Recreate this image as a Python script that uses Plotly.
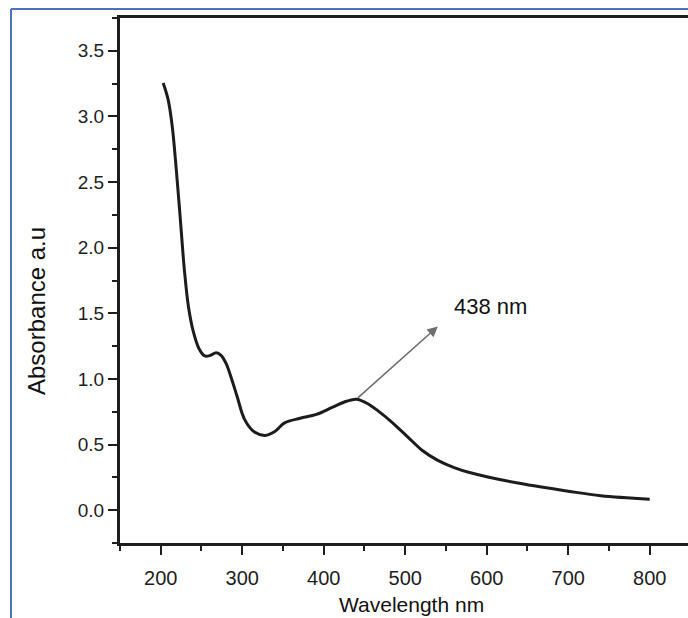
import plotly.graph_objects as go

# Data (UV-Vis absorbance spectrum)
wavelength = [203, 209, 214, 219, 224, 229, 234, 240, 247, 254, 261, 268, 274,
              280, 287, 294, 303, 315, 328, 340, 352, 371, 391, 411, 428, 440, 453,
              467, 481, 502, 521, 540, 560, 580, 600, 640, 700, 740, 800]
absorbance = [3.255, 3.13, 2.93, 2.60, 2.22, 1.83, 1.55, 1.36, 1.23, 1.175, 1.18, 1.20, 1.18,
              1.12, 1.00, 0.86, 0.69, 0.595, 0.57, 0.60, 0.665, 0.70, 0.73, 0.785, 0.83, 0.845, 0.815,
              0.755, 0.685, 0.565, 0.455, 0.38, 0.325, 0.285, 0.255, 0.205, 0.145, 0.11, 0.084]

peak_label = "438 nm"
peak_point = (440, 0.845)
arrow_tip = (540, 1.40)
label_pos = (605, 1.55)

x_ticks = [200, 300, 400, 500, 600, 700, 800]
y_ticks = [0.0, 0.5, 1.0, 1.5, 2.0, 2.5, 3.0, 3.5]

W, H = 688, 618
L, R, T, B = 120, 0, 18, 75
pw, ph = W - L - R, H - T - B

def px(xp):
    return (xp - L) / pw

def py(yp):
    return (H - B - yp) / ph

font_family = "Liberation Sans, Arial, sans-serif"
txt_color = "#1e1e1e"

fig = go.Figure()
fig.add_trace(go.Scatter(
    x=wavelength, y=absorbance, mode="lines",
    line=dict(color="#1c1c1c", width=3, shape="spline", smoothing=1.0),
    hoverinfo="skip", showlegend=False,
))

fig.update_layout(
    width=W, height=H,
    margin=dict(l=L, r=R, t=T, b=B),
    paper_bgcolor="white", plot_bgcolor="white",
    font=dict(family=font_family, color=txt_color),
    xaxis=dict(
        range=[150, 847], tickmode="array", tickvals=x_ticks,
        ticktext=[str(v) for v in x_ticks],
        showgrid=False, zeroline=False,
        showline=True, linecolor="#1e1e1e", linewidth=3, mirror=True,
        ticks="outside", ticklen=9, tickwidth=2, tickcolor="#1e1e1e",
        minor=dict(dtick=50, tick0=150, ticks="outside", ticklen=5, tickwidth=2, tickcolor="#1e1e1e"),
        tickfont=dict(size=20, color=txt_color),
        ticklabelstandoff=6,
    ),
    yaxis=dict(
        range=[-0.25, 3.75], tickmode="array", tickvals=y_ticks,
        ticktext=[f"{v:.1f}" for v in y_ticks],
        showgrid=False, zeroline=False,
        showline=True, linecolor="#1e1e1e", linewidth=3, mirror=False,
        ticks="outside", ticklen=9, tickwidth=2, tickcolor="#1e1e1e",
        minor=dict(dtick=0.25, tick0=-0.25, ticks="outside", ticklen=5, tickwidth=2, tickcolor="#1e1e1e"),
        tickfont=dict(size=19, color=txt_color),
        ticklabelstandoff=0,
    ),
)

annotations = [
    dict(x=arrow_tip[0], y=arrow_tip[1], ax=peak_point[0], ay=peak_point[1],
         xref="x", yref="y", axref="x", ayref="y", text="", showarrow=True,
         arrowhead=2, arrowsize=1.3, arrowwidth=1.6, arrowcolor="#6e6e6e"),
    dict(x=label_pos[0], y=label_pos[1], xref="x", yref="y", text=peak_label,
         xanchor="center", yanchor="middle",
         showarrow=False, font=dict(size=22, color="#111111")),
    dict(x=px(36), y=py(311), xref="paper", yref="paper", text="Absorbance a.u",
         xanchor="center", yanchor="middle",
         textangle=-90, showarrow=False, font=dict(size=24, color="#111111")),
    dict(x=px(411), y=py(604), xref="paper", yref="paper", text="Wavelength nm",
         xanchor="center", yanchor="middle",
         showarrow=False, font=dict(size=21, color="#111111")),
]
fig.update_layout(annotations=annotations)

blue = "#4c6fc2"
fig.add_shape(type="line", xref="paper", yref="paper",
              x0=px(11), x1=px(11), y0=py(9), y1=py(H + 5),
              line=dict(color=blue, width=2))
fig.add_shape(type="line", xref="paper", yref="paper",
              x0=px(11), x1=px(W + 5), y0=py(9), y1=py(9),
              line=dict(color=blue, width=2))

fig.write_html("out.html")
